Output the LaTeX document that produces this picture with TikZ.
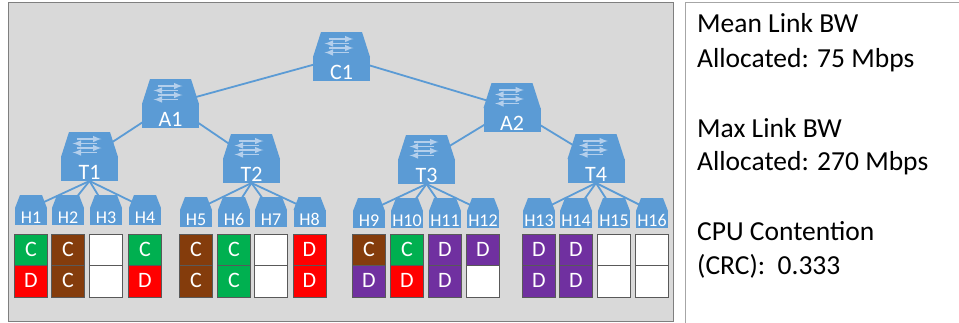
\documentclass[tikz,border=0pt]{standalone}
\usepackage{fontspec}
\setmainfont{Carlito}
\usetikzlibrary{arrows}
\usetikzlibrary{positioning}
\definecolor{SwitchBlue}{HTML}{5B9BD5}
\definecolor{ArrowBlue}{HTML}{B4CFEC}
\definecolor{PanelGray}{HTML}{D9D9D9}
\definecolor{PanelBorder}{HTML}{7F7F7F}
\definecolor{BoxBorder}{HTML}{A6A6A6}
\definecolor{SlotBorder}{HTML}{595959}
\definecolor{SlotGreen}{HTML}{00B050}
\definecolor{SlotBrown}{HTML}{843C0C}
\definecolor{SlotRed}{HTML}{FF0000}
\definecolor{SlotPurple}{HTML}{7030A0}
\pgfdeclarelayer{back}
\pgfdeclarelayer{links}
\pgfsetlayers{back,links,main}

\tikzset{
  switchbody/.style={fill=SwitchBlue, text=white, inner sep=0, outer sep=0,
    minimum width=57pt, minimum height=24pt, text height=20pt, text depth=0pt,
    font=\fontsize{22}{22}\selectfont},
  swarrow/.style={ArrowBlue, line width=1.9pt, -latex},
  hostbody/.style={fill=SwitchBlue, text=white, inner sep=0, outer sep=0,
    minimum width=32pt, minimum height=17pt, text height=13.6pt, text depth=0pt,
    font=\fontsize{18}{18}\selectfont},
  slot/.style={draw=SlotBorder, text=white, inner sep=0, outer sep=0,
    minimum width=33pt, minimum height=31.5pt, text height=13pt, text depth=0pt,
    font=\fontsize{22}{22}\selectfont},
  Cg/.style={slot, fill=SlotGreen, node contents={C}},
  Cb/.style={slot, fill=SlotBrown, node contents={C}},
  Dr/.style={slot, fill=SlotRed, node contents={D}},
  Dp/.style={slot, fill=SlotPurple, node contents={D}},
  free/.style={slot, fill=white, node contents={}},
  link/.style={SwitchBlue, line width=1.8pt},
  infotext/.style={anchor=base west, inner sep=0, font=\fontsize{27.5}{27.5}\selectfont},
}

\newcommand{\netswitch}[3]{%
  \node[switchbody] (#1) at (#2,#3) {#1};
  \fill[SwitchBlue] (#1.north west) -- ++(8,-25) -- ++(41,0) -- (#1.north east) -- cycle;
  \draw[swarrow] ([shift={(-13,-18)}]#1.north) -- ++(25,0);
  \draw[swarrow] ([shift={(7,-13.5)}]#1.north) -- ++(-24,0);
  \draw[swarrow] ([shift={(-13,-9)}]#1.north) -- ++(25,0);
  \draw[swarrow] ([shift={(7,-4.5)}]#1.north) -- ++(-24,0);
}

\begin{document}
\begin{tikzpicture}[x=1pt, y=-1pt]
  \useasboundingbox (0,0) rectangle (959,322);
  % Panels
  \begin{pgfonlayer}{back}
    \draw[PanelBorder, fill=PanelGray] (8,2) rectangle (673,321);
    \draw[BoxBorder, fill=white] (685,2) rectangle (963,326);
  \end{pgfonlayer}
  % Switches
  \netswitch{C1}{341.5}{69}
  \netswitch{A1}{170.5}{116}
  \netswitch{A2}{512}{120}
  \netswitch{T1}{89.5}{169}
  \netswitch{T2}{251.5}{171}
  \netswitch{T3}{426.5}{172}
  \netswitch{T4}{596}{171}
  \begin{pgfonlayer}{links}
    \draw[link] (C1.north) -- (A1.north);
    \draw[link] (C1.north) -- (A2.north);
    \draw[link] (A1.north) -- (T1.north);
    \draw[link] (A1.north) -- (T2.north);
    \draw[link] (A2.north) -- (T3.north);
    \draw[link] (A2.north) -- (T4.north);
  \end{pgfonlayer}
  % Hosts and their slots
  \foreach \tor/\y/\hosts in {
    T1/216.5/{31/1/Cg/Dr, 68/2/Cb/Cb, 106/3/free/free, 145/4/Cg/Dr},
    T2/218.5/{196/5/Cb/Cb, 234/6/Cg/Cg, 271/7/free/free, 309.5/8/Dr/Dr},
    T3/219.5/{369/9/Cb/Dp, 407/10/Cg/Dr, 445/11/Dp/Dp, 483/12/Dp/free},
    T4/219.5/{539/13/Dp/Dp, 576/14/Dp/Dp, 614/15/free/free, 652/16/free/free}}{
    \foreach \x/\n/\up/\dn in \hosts {
      \node[hostbody] (H\n) at (\x,\y) {H\n};
      \fill[SwitchBlue] (H\n.north west) -- ++(5,-13) -- ++(22,0) -- (H\n.north east) -- cycle;
      \node (S\n-up) at (\x,249.5) [\up];
      \node (S\n-dn) at (\x,281) [\dn];
      \begin{pgfonlayer}{links}
        \draw[link] (\tor.south) -- (H\n.north);
      \end{pgfonlayer}
    }
  }
  % Totals
  \node[infotext] (mean1) at (697,32) {Mean Link BW};
  \node[infotext] (mean2) at (697,67) {Allocated: 75 Mbps};
  \node[infotext] (max1) at (697,137) {Max Link BW};
  \node[infotext] (max2) at (697,170) {Allocated: 270 Mbps};
  \node[infotext] (cpu1) at (697,240) {CPU Contention};
  \node[infotext] (cpu2) at (697,274) {(CRC):~~0.333};
\end{tikzpicture}
\end{document}
